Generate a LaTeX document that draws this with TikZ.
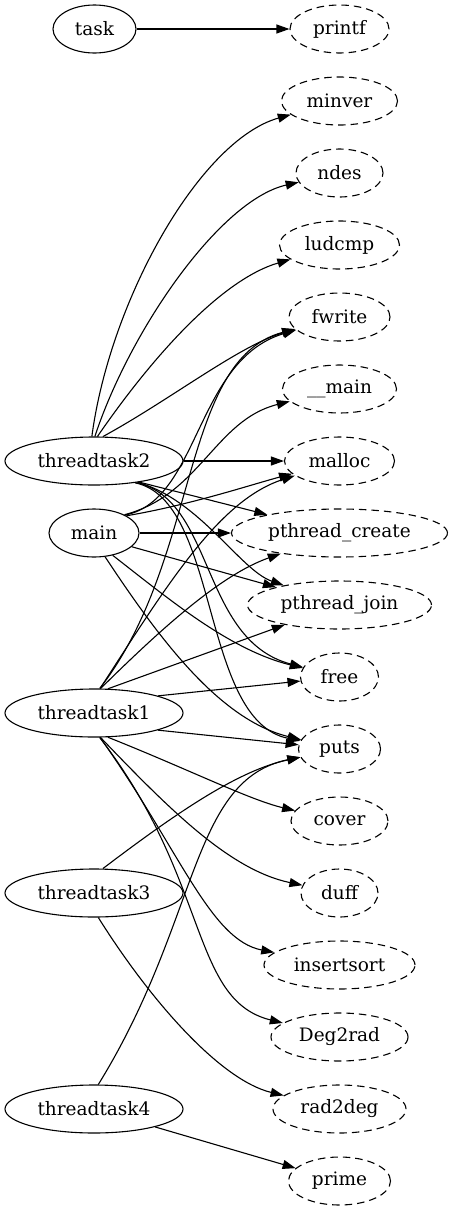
\documentclass[tikz,border=0pt]{standalone}
\usepackage{fontspec}
\setmainfont{DejaVu Serif}
\usetikzlibrary{shapes.geometric,arrows.meta}
\begin{document}
\begin{tikzpicture}[x=1pt,y=-1pt,
  base/.style={ellipse, draw, line width=1.1pt, inner sep=0pt, minimum height=48pt,
    font=\fontsize{18.5}{20}\selectfont},
  fnode/.style={base, dash pattern=on 7.5pt off 5pt},
  edge/.style={line width=1.1pt, -{Triangle[length=13pt,width=9pt]}}]
\useasboundingbox (0,0) rectangle (454,1211);
% caller nodes
\node[base, minimum width=83pt]  (task) at (94.5,29) {task};
\node[base, minimum width=178pt] (tt2)  at (94,461) {threadtask2};
\node[base, minimum width=90pt]  (main) at (94,533) {main};
\node[base, minimum width=178pt] (tt1)  at (94,713) {threadtask1};
\node[base, minimum width=178pt] (tt3)  at (94,893) {threadtask3};
\node[base, minimum width=178pt] (tt4)  at (94,1109) {threadtask4};
% callee nodes
\node[fnode, minimum width=99pt]  (printf) at (339.5,29)   {printf};
\node[fnode, minimum width=116pt] (minver) at (339.5,101)  {minver};
\node[fnode, minimum width=87pt]  (ndes)   at (339.5,173)  {ndes};
\node[fnode, minimum width=120pt] (ludcmp) at (339.5,245)  {ludcmp};
\node[fnode, minimum width=101pt] (fwrite) at (339.5,317)  {fwrite};
\node[fnode, minimum width=114pt] (umain)  at (339.5,389)  {\_\_main};
\node[fnode, minimum width=110pt] (malloc) at (339.5,461)  {malloc};
\node[fnode, minimum width=216pt] (pcreate) at (339.5,533) {pthread\_create};
\node[fnode, minimum width=184pt] (pjoin)  at (339.5,605)  {pthread\_join};
\node[fnode, minimum width=78pt]  (free)   at (339.5,677)  {free};
\node[fnode, minimum width=82pt]  (puts)   at (339.5,749)  {puts};
\node[fnode, minimum width=97pt]  (cover)  at (339.5,821)  {cover};
\node[fnode, minimum width=77pt]  (duff)   at (339.5,893)  {duff};
\node[fnode, minimum width=151pt] (isort)  at (339.5,965)  {insertsort};
\node[fnode, minimum width=137pt] (d2r)    at (339.5,1037) {Deg2rad};
\node[fnode, minimum width=133pt] (r2d)    at (339.5,1109) {rad2deg};
\node[fnode, minimum width=102pt] (prime)  at (339.5,1181) {prime};
% task
\draw[edge] (task) -- (printf);
% threadtask2
\draw[edge] (tt2.95) .. controls (110,300) and (200,140) .. (minver);
\draw[edge] (tt2.88) .. controls (130,330) and (220,200) .. (ndes);
\draw[edge] (tt2.82) .. controls (150,360) and (220,280) .. (ludcmp);
\draw[edge] (tt2.70) .. controls (170,400) and (240,345) .. (fwrite);
\draw[edge] (tt2) -- (malloc);
\draw[edge] (tt2.-25) -- (pcreate);
\draw[edge] (tt2.-26) .. controls (200,500) and (240,570) .. (pjoin);
\draw[edge] (tt2.-27) .. controls (215,500) and (200,640) .. (free);
\draw[edge] (tt2.-28) .. controls (220,500) and (200,720) .. (puts);
% main
\draw[edge] (main.30) .. controls (200,500) and (195,360) .. (fwrite);
\draw[edge] (main.31) .. controls (200,495) and (215,420) .. (umain);
\draw[edge] (main.28) .. controls (190,505) and (250,485) .. (malloc);
\draw[edge] (main) -- (pcreate);
\draw[edge] (main.-20) -- (pjoin);
\draw[edge] (main.-50) .. controls (170,600) and (230,650) .. (free);
\draw[edge] (main.-65) .. controls (160,640) and (220,720) .. (puts);
% threadtask1
\draw[edge] (tt1.77) .. controls (200,560) and (180,360) .. (fwrite);
\draw[edge] (tt1.76) .. controls (170,580) and (220,500) .. (malloc);
\draw[edge] (tt1.75) .. controls (160,630) and (220,575) .. (pcreate);
\draw[edge] (tt1.60) -- (pjoin);
\draw[edge] (tt1.15) -- (free);
\draw[edge] (tt1.-15) -- (puts);
\draw[edge] (tt1.-60) .. controls (190,770) and (250,800) .. (cover);
\draw[edge] (tt1.-75) .. controls (170,810) and (230,870) .. (duff);
\draw[edge] (tt1.-76) .. controls (180,850) and (210,940) .. (isort);
\draw[edge] (tt1.-77) .. controls (210,880) and (190,1000) .. (d2r);
% threadtask3
\draw[edge] (tt3.70) .. controls (180,810) and (240,770) .. (puts);
\draw[edge] (tt3.-80) .. controls (150,1000) and (220,1080) .. (r2d);
% threadtask4
\draw[edge] (tt4.80) .. controls (200,920) and (190,780) .. (puts);
\draw[edge] (tt4) -- (prime);
\end{tikzpicture}
\end{document}
